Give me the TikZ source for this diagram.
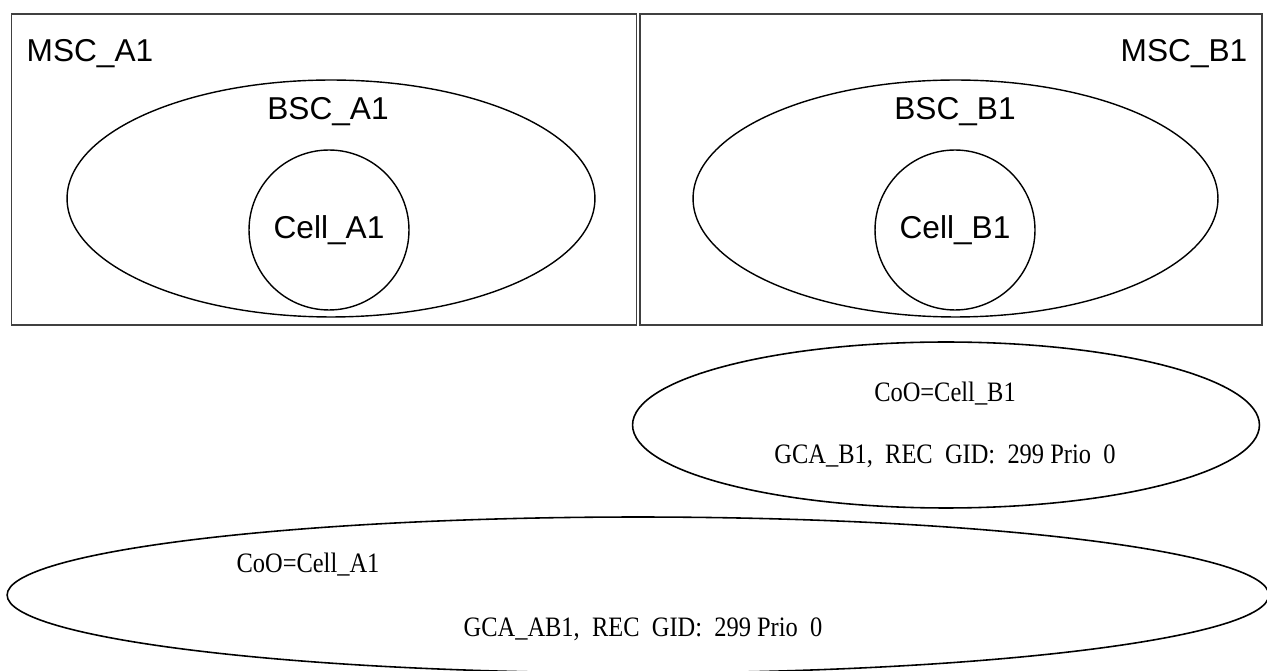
\documentclass[tikz,border=0pt]{standalone}
\usepackage{fontspec}
\setmainfont{Liberation Serif}
\newfontfamily\sansA{Liberation Sans}
\newfontfamily\serifN[FakeStretch=0.87]{Liberation Serif}
\usetikzlibrary{shapes.geometric,positioning}

\begin{document}
\begin{tikzpicture}[
  x=0.02cm, y=-0.02cm,
  area/.style={draw=black!75, line width=1pt, minimum width=12.5cm, minimum height=6.22cm, inner sep=0pt},
  bsc/.style={draw, ellipse, line width=0.8pt, minimum height=4.74cm, inner sep=0pt},
  cell/.style={draw, circle, line width=0.8pt, minimum size=3.2cm, inner sep=0pt, font=\sansA\fontsize{18}{21}\selectfont},
  arealbl/.style={anchor=base, inner sep=0pt, font=\sansA\fontsize{18}{21}\selectfont},
  gca/.style={draw, ellipse, line width=0.9pt, inner sep=0pt},
  info/.style={anchor=base, inner sep=0pt, font=\serifN\fontsize{16}{19}\selectfont}
]
\useasboundingbox (0,0) rectangle (1267,671);

% A side
\node[area] (mscA) at (324,169.5) {};
\node[arealbl] (mscAlbl) at (90,62) {MSC\_A1};
\node[bsc, minimum width=10.56cm] (bscA) at (331,198.5) {};
\node[arealbl] (bscAlbl) at (328,120) {BSC\_A1};
\node[cell] (cellA) at (329,230) {Cell\_A1};

% B side
\node[area, minimum width=12.44cm] (mscB) at (951,169.5) {};
\node[arealbl] (mscBlbl) at (1184,62) {MSC\_B1};
\node[bsc, minimum width=10.5cm] (bscB) at (955.5,198.5) {};
\node[arealbl] (bscBlbl) at (955,120) {BSC\_B1};
\node[cell] (cellB) at (955,230) {Cell\_B1};

% GCA areas
\node[gca, minimum width=12.54cm, minimum height=3.32cm] (gcaB) at (946,425) {};
\node[info] (cooB) at (945,402) {CoO=Cell\_B1};
\node[info] (recB) at (945,464) {GCA\_B1,\ \ REC\ \ GID:\ \ 299 Prio\ \ 0};

\node[gca, minimum width=25.24cm, minimum height=3.12cm] (gcaAB) at (638,595) {};
\node[info] (cooA) at (308,573) {CoO=Cell\_A1};
\node[info] (recAB) at (643,636) {GCA\_AB1,\ \ REC\ \ GID:\ \ 299 Prio\ \ 0};

\end{tikzpicture}
\end{document}
